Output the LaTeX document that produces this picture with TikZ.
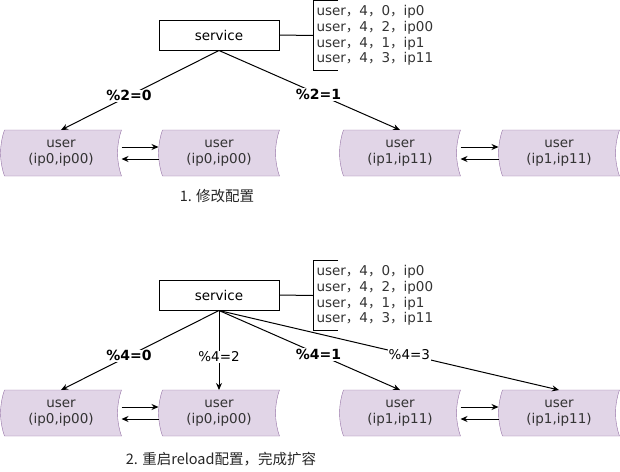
\documentclass[tikz,border=0pt]{standalone}
\usepackage{fontspec}
\setmainfont{DejaVu Sans}
\newfontfamily\cjk{Noto Sans CJK SC}
\usetikzlibrary{arrows.meta,backgrounds}
\definecolor{userfill}{HTML}{E1D5E7}
\definecolor{userline}{HTML}{9673A6}
\newcommand{\zc}{{\cjk ，}}

\begin{document}
\begin{tikzpicture}[x=1pt, y=-1pt, line width=1pt,
  font=\fontsize{13.5}{15.5}\selectfont,
  >={Stealth[length=7pt,width=6pt]},
  svcbox/.style={draw, minimum width=120pt, minimum height=30pt, inner sep=0pt},
  userbox/.style={minimum width=120pt, minimum height=45pt, inner sep=0pt,
    align=center, text=black!80},
  store/.style={fill=userfill, draw=userline},
  listbox/.style={anchor=west, minimum height=69pt, inner xsep=3pt,
    align=left, font=\fontsize{13.5}{15.6}\selectfont, text=black!80},
  lbl/.style={fill=white, inner sep=1pt},
  lblb/.style={lbl, font=\fontsize{14}{16}\selectfont\bfseries},
  capt/.style={font=\fontsize{14.5}{17}\selectfont\cjk, text=black!85}]
\useasboundingbox (0,0) rectangle (620,471);

% 1. before
\node[svcbox] (s1) at (219,35) {service};
\node[listbox] (list1) at (313,35.5) {user\zc4\zc0\zc ip0\\user\zc4\zc2\zc ip00\\user\zc4\zc1\zc ip1\\user\zc4\zc3\zc ip11};
\node[userbox] (u1) at (61,153)  {user\\(ip0,ip00)};
\node[userbox] (u2) at (219,153) {user\\(ip0,ip00)};
\node[userbox] (u3) at (400,153) {user\\(ip1,ip11)};
\node[userbox] (u4) at (559,153) {user\\(ip1,ip11)};
\node[capt] (c1) at (217,196) {1. 修改配置};

% 2. after reload
\node[svcbox] (s2) at (219,295) {service};
\node[listbox] (list2) at (313,295.5) {user\zc4\zc0\zc ip0\\user\zc4\zc2\zc ip00\\user\zc4\zc1\zc ip1\\user\zc4\zc3\zc ip11};
\node[userbox] (v1) at (61,413)  {user\\(ip0,ip00)};
\node[userbox] (v2) at (219,413) {user\\(ip0,ip00)};
\node[userbox] (v3) at (400,413) {user\\(ip1,ip11)};
\node[userbox] (v4) at (559,413) {user\\(ip1,ip11)};
\node[capt] (c2) at (221,459) {2. 重启reload配置，完成扩容};

\begin{scope}[on background layer]
\foreach \n in {u1,u2,u3,u4,v1,v2,v3,v4}
  \filldraw[store] ([xshift=4pt]\n.north west) -- (\n.north east)
    .. controls ([xshift=-5.3pt,yshift=-15pt]\n.north east)
       and ([xshift=-5.3pt,yshift=15pt]\n.south east) .. (\n.south east)
    -- ([xshift=4pt]\n.south west)
    .. controls ([xshift=-1.3pt,yshift=15pt]\n.south west)
       and ([xshift=-1.3pt,yshift=-15pt]\n.north west) .. ([xshift=4pt]\n.north west)
    -- cycle;
\end{scope}

% brackets
\foreach \l in {list1,list2}
  \draw ([xshift=25pt]\l.north west) -- (\l.north west) -- (\l.south west)
    -- ([xshift=25pt]\l.south west);
\draw (s1.east) -- (list1.west);
\draw (s2.east) -- (list2.west);

\draw[->] (s1.south) -- node[lblb,pos=.57] {\%2=0} (u1.north);
\draw[->] (s1.south) -- node[lblb,pos=.55] {\%2=1} (u3.north);
\draw[->] ([yshift=6pt]u1.east) -- ([yshift=6pt]u2.west);
\draw[->] ([yshift=-6pt]u2.west) -- ([yshift=-6pt]u1.east);
\draw[->] ([yshift=6pt]u3.east) -- ([yshift=6pt]u4.west);
\draw[->] ([yshift=-6pt]u4.west) -- ([yshift=-6pt]u3.east);

\draw[->] (s2.south) -- node[lblb,pos=.57] {\%4=0} (v1.north);
\draw[->] (s2.south) -- node[lbl,pos=.58] {\%4=2} (v2.north);
\draw[->] (s2.south) -- node[lblb,pos=.55] {\%4=1} (v3.north);
\draw[->] (s2.south) -- node[lbl,pos=.56] {\%4=3} (v4.north);
\draw[->] ([yshift=6pt]v1.east) -- ([yshift=6pt]v2.west);
\draw[->] ([yshift=-6pt]v2.west) -- ([yshift=-6pt]v1.east);
\draw[->] ([yshift=6pt]v3.east) -- ([yshift=6pt]v4.west);
\draw[->] ([yshift=-6pt]v4.west) -- ([yshift=-6pt]v3.east);
\end{tikzpicture}
\end{document}
